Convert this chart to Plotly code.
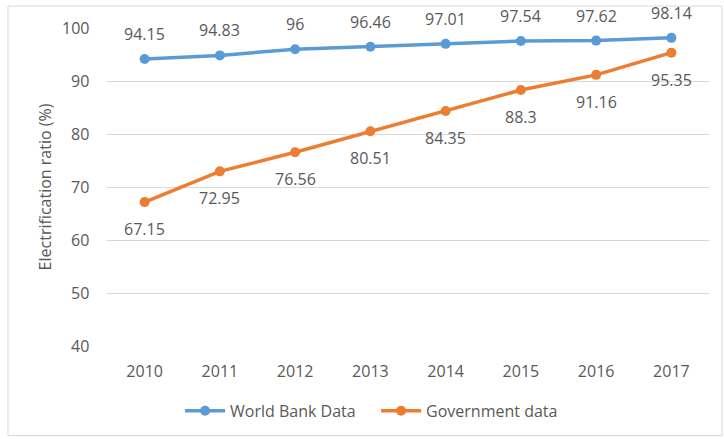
import plotly.graph_objects as go

years = ["2010", "2011", "2012", "2013", "2014", "2015", "2016", "2017"]
world_bank = [94.15, 94.83, 96, 96.46, 97.01, 97.54, 97.62, 98.14]
government = [67.15, 72.95, 76.56, 80.51, 84.35, 88.3, 91.16, 95.35]
y_ticks = [40, 50, 60, 70, 80, 90, 100]

BLUE = "#5B9BD5"
ORANGE = "#ED7D31"
TXT = "#595959"
FONT = "Open Sans"
FS = 16

fig = go.Figure()
fig.add_trace(go.Scatter(x=years, y=world_bank, mode="lines+markers", name="World Bank Data",
                         line=dict(color=BLUE, width=3.5), marker=dict(size=10, color=BLUE)))
fig.add_trace(go.Scatter(x=years, y=government, mode="lines+markers", name="Government data",
                         line=dict(color=ORANGE, width=3.5), marker=dict(size=10, color=ORANGE)))

for i, v in enumerate(world_bank):
    fig.add_annotation(x=i, y=v, xref="x", yref="y", text=f"{v:g}", showarrow=False, yshift=25,
                       font=dict(family=FONT, size=FS, color=TXT))
for i, v in enumerate(government):
    fig.add_annotation(x=i, y=v, xref="x", yref="y", text=f"{v:g}", showarrow=False, yshift=-27,
                       font=dict(family=FONT, size=FS, color=TXT))
# y tick labels (placed a little further from the plot edge, as in the reference)
for t in y_ticks:
    fig.add_annotation(x=-0.027, y=t, xref="paper", yref="y", text=str(t), showarrow=False,
                       xanchor="right", yanchor="middle",
                       font=dict(family=FONT, size=FS, color=TXT))

fig.add_shape(type="rect", xref="paper", yref="paper", x0=-0.1645, x1=1.0216, y0=-0.282, y1=1.069,
              line=dict(color="#D9D9D9", width=1), fillcolor="rgba(0,0,0,0)", layer="below")

fig.update_layout(
    width=724, height=439,
    margin=dict(l=107, r=15, t=28, b=92),
    paper_bgcolor="white", plot_bgcolor="white",
    font=dict(family=FONT, size=FS, color=TXT),
    showlegend=True,
    legend=dict(orientation="h", x=0.447, xanchor="center", y=-0.2, yanchor="middle",
                entrywidth=141, entrywidthmode="pixels", itemwidth=40,
                font=dict(family=FONT, size=FS, color=TXT)),
    xaxis=dict(type="category", range=[-0.5, 7.5], showgrid=False, showline=False, zeroline=False,
               ticks="", ticklabelstandoff=14, tickfont=dict(size=FS, color=TXT)),
    yaxis=dict(range=[40, 100], tickvals=y_ticks, showgrid=True, gridcolor="#D9D9D9", gridwidth=1,
               zeroline=False, showline=False, ticks="", showticklabels=False,
               title=dict(text="Electrification ratio (%)", font=dict(size=FS, color=TXT), standoff=50),
               automargin=False),
)
fig.write_html("out.html")
